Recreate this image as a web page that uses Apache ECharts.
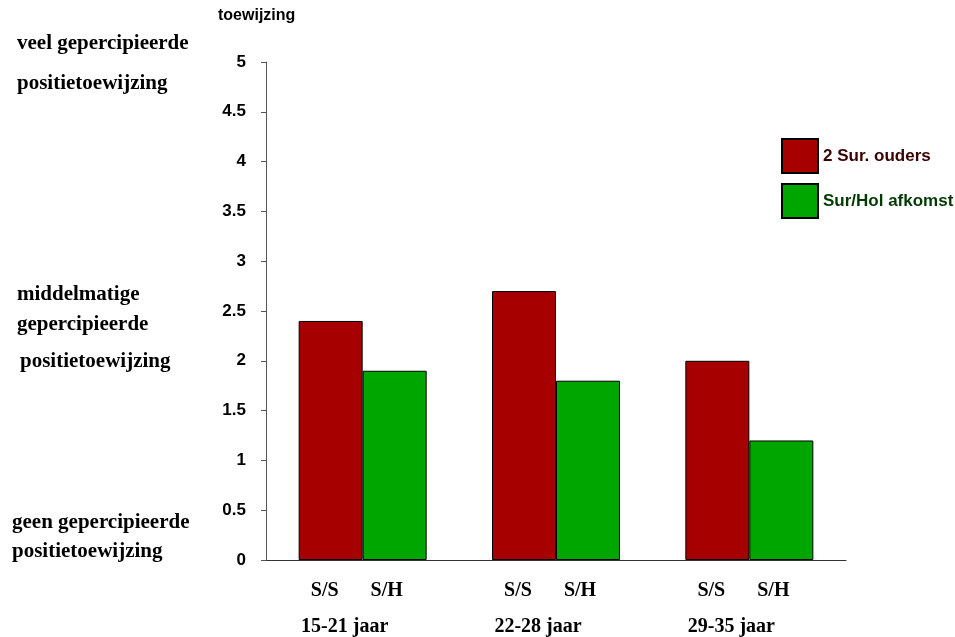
<!DOCTYPE html>
<html>
<head>
<meta charset="utf-8">
<script src="https://cdn.jsdelivr.net/npm/echarts@6/dist/echarts.min.js"></script>
<style>
  html, body { margin: 0; padding: 0; background: #fff; }
  #chart { width: 955px; height: 637px; }
</style>
</head>
<body>
<div id="chart"></div>
<script>
// Age groups and the two origin groups per age group
const ageGroups = ['15-21 jaar', '22-28 jaar', '29-35 jaar'];
const barLabels = ['S/S', 'S/H'];
const seriesNames = ['2 Sur. ouders', 'Sur/Hol afkomst'];

// Mean perceived position assignment per age group
const surOuders = [2.4, 2.7, 2.0];
const surHolAfkomst = [1.9, 1.8, 1.2];

// Y-axis ticks
const yMin = 0, yMax = 5, yStep = 0.5;

// Scale descriptions on the left
const scaleTexts = [
  { lines: ['veel gepercipieerde', 'positietoewijzing'], xs: [17, 17], ys: [45, 85] },
  { lines: ['middelmatige', 'gepercipieerde', 'positietoewijzing'], xs: [17, 17, 20], ys: [296, 326, 363] },
  { lines: ['geen gepercipieerde', 'positietoewijzing'], xs: [12, 12], ys: [524, 553] }
];

const serif = '"Liberation Serif", "Times New Roman", serif';
const sans = '"Liberation Sans", Arial, sans-serif';

const graphics = [];
scaleTexts.forEach(block => {
  block.lines.forEach((t, i) => {
    graphics.push({
      type: 'text',
      left: block.xs[i],
      top: block.ys[i] - 12,
      style: { text: t, font: 'bold 21px ' + serif, fill: '#000' }
    });
  });
});
graphics.push({
  type: 'text', left: 218, top: 8,
  style: { text: 'toewijzing', font: 'bold 16px ' + sans, fill: '#000' }
});

const chart = echarts.init(document.getElementById('chart'));
chart.setOption({
  animation: false,
  backgroundColor: '#fff',
  grid: { left: 266, right: 109, top: 62, bottom: 75, containLabel: false },
  legend: {
    orient: 'vertical',
    left: 781, top: 138, padding: 0,
    itemWidth: 36, itemHeight: 34, itemGap: 9,
    icon: 'rect',
    textStyle: { fontFamily: sans, fontSize: 17, fontWeight: 'bold', padding: [0, 0, 8, 0] },
    data: [
      { name: seriesNames[0], textStyle: { color: '#3a0000' } },
      { name: seriesNames[1], textStyle: { color: '#003a00' } }
    ]
  },
  xAxis: {
    type: 'category',
    data: ageGroups,
    axisLine: { lineStyle: { color: '#333', width: 1 } },
    axisTick: { alignWithLabel: true, length: 6, lineStyle: { color: '#555' } },
    axisLabel: {
      margin: 13,
      interval: 0,
      formatter: v => '{a|' + barLabels[0] + '}{b|' + barLabels[1] + '}\n{c|' + v + '}',
      rich: {
        a: { width: 48, align: 'center', fontFamily: serif, fontSize: 20, fontWeight: 'bold', color: '#000', lineHeight: 36 },
        b: { width: 76, align: 'center', fontFamily: serif, fontSize: 20, fontWeight: 'bold', color: '#000', lineHeight: 36 },
        c: { fontFamily: serif, fontSize: 20, fontWeight: 'bold', color: '#000', lineHeight: 36, padding: [0, 36, 0, 0] }
      }
    }
  },
  yAxis: {
    type: 'value',
    min: yMin, max: yMax, interval: yStep,
    splitLine: { show: false },
    axisLine: { show: true, lineStyle: { color: '#555', width: 1 } },
    axisTick: { show: true, length: 5, lineStyle: { color: '#555' } },
    axisLabel: { margin: 20, fontFamily: sans, fontSize: 17, fontWeight: 'bold', color: '#000' }
  },
  series: [
    {
      name: seriesNames[0], type: 'bar', data: surOuders,
      barWidth: 64, barGap: '0%',
      itemStyle: { color: '#a60000', borderColor: '#000', borderWidth: 1 }
    },
    {
      name: seriesNames[1], type: 'bar', data: surHolAfkomst,
      barWidth: 64, barGap: '0%',
      itemStyle: { color: '#00a600', borderColor: '#000', borderWidth: 1 }
    }
  ],
  graphic: graphics
});
</script>
</body>
</html>
